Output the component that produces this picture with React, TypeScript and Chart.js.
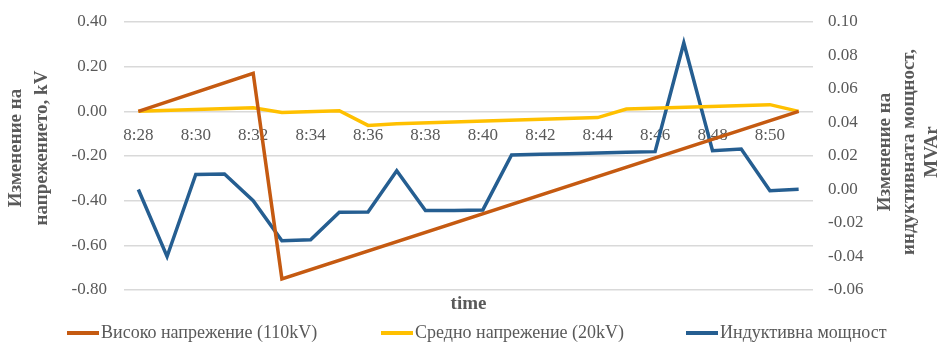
import React, { useEffect, useRef } from 'react';
import { Chart, registerables } from 'chart.js';

Chart.register(...registerables);

const times = [
  '8:28', '8:29', '8:30', '8:31', '8:32', '8:33', '8:34', '8:35',
  '8:36', '8:37', '8:38', '8:39', '8:40', '8:41', '8:42', '8:43',
  '8:44', '8:45', '8:46', '8:47', '8:48', '8:49', '8:50', '8:51',
];

// Високо напрежение (110kV), kV — left axis
const highVoltage: (number | null)[] = [
  0, null, null, null, 0.17, -0.75, null, null,
  null, null, null, null, null, null, null, null,
  null, null, null, null, null, null, null, 0,
];

// Средно напрежение (20kV), kV — left axis
const mediumVoltage: (number | null)[] = [
  0, null, null, null, 0.016, -0.005, null, 0.003,
  -0.063, -0.056, null, null, null, null, null, null,
  -0.028, 0.01, null, null, null, null, 0.03, 0,
];

// Индуктивна мощност, MVAr — right axis
const inductivePower: number[] = [
  0, -0.04, 0.009, 0.0093, -0.0067, -0.0306, -0.03, -0.0136,
  -0.0134, 0.0112, -0.0126, -0.0125, -0.0122, 0.0206, 0.021, 0.0214,
  0.0218, 0.0222, 0.0226, 0.0875, 0.0232, 0.0242, -0.0007, 0.0001,
];

const seriesNames = ['Високо напрежение (110kV)', 'Средно напрежение (20kV)', 'Индуктивна мощност'];
const seriesColors = ['#C55A11', '#FFC000', '#255E91'];
const leftTitle = ['Изменение на', 'напрежението, kV'];
const rightTitle = ['Изменение на', 'индуктивната мощност,', 'MVAr'];
const xTitle = 'time';

const GRAY = '#595959';
const FONT = '"Liberation Serif", "Times New Roman", serif';

const fmt = (v: number) => (Math.abs(v) < 1e-9 ? 0 : v).toFixed(2);

const titlesPlugin = {
  id: 'axisTitlesAndLegend',
  afterDraw(chart: any) {
    const { ctx, chartArea } = chart;
    ctx.save();
    ctx.fillStyle = GRAY;
    ctx.font = `bold 19px ${FONT}`;
    ctx.textAlign = 'center';
    ctx.textBaseline = 'middle';
    const drawV = (lines: string[], xs: number[], cy: number) => {
      lines.forEach((t, i) => {
        ctx.save();
        ctx.translate(xs[i], cy);
        ctx.rotate(-Math.PI / 2);
        ctx.fillText(t, 0, 0);
        ctx.restore();
      });
    };
    drawV(leftTitle, [chartArea.left - 108, chartArea.left - 82], 148);
    drawV(rightTitle, [chartArea.right + 72, chartArea.right + 96, chartArea.right + 119], 152);
    ctx.fillText(xTitle, (chartArea.left + chartArea.right) / 2, 304);

    // legend
    const legendX = [67, 381, 686];
    const ly = 333;
    ctx.font = `18px ${FONT}`;
    ctx.textAlign = 'left';
    chart.data.datasets.forEach((ds: any, i: number) => {
      ctx.fillStyle = ds.borderColor;
      ctx.fillRect(legendX[i], ly - 2, 32, 4);
      ctx.fillStyle = GRAY;
      ctx.fillText(ds.label, legendX[i] + 34, ly);
    });
    ctx.restore();
  },
};

const noVPad = (w: number) => (s: any) => {
  s.width = w;
  s.paddingTop = 0;
  s.paddingBottom = 0;
};

export default function App() {
  const ref = useRef<HTMLCanvasElement>(null);
  useEffect(() => {
    document.body.style.margin = '0';
    const mk = (i: number, data: (number | null)[], axis: string) => ({
      label: seriesNames[i],
      data,
      borderColor: seriesColors[i],
      backgroundColor: seriesColors[i],
      borderWidth: 3.5,
      pointRadius: 0,
      spanGaps: true,
      yAxisID: axis,
    });
    const chart = new Chart(ref.current as HTMLCanvasElement, {
      type: 'line',
      data: {
        labels: times,
        datasets: [
          mk(0, highVoltage, 'y'),
          mk(1, mediumVoltage, 'y'),
          mk(2, inductivePower, 'y1'),
        ],
      },
      options: {
        responsive: false,
        animation: false,
        layout: { padding: { left: 66, right: 0, top: 22, bottom: 53 } },
        scales: {
          x: {
            type: 'category',
            position: { y: 0 } as any,
            offset: true,
            grid: { display: false, drawTicks: false },
            border: { display: false },
            ticks: {
              autoSkip: false,
              maxRotation: 0,
              padding: 14,
              color: GRAY,
              font: { family: FONT, size: 17 },
              callback: (_v: any, i: number) => (i % 2 === 0 ? times[i] : ''),
            },
          },
          y: {
            position: 'left',
            min: -0.8,
            max: 0.4,
            ticks: {
              stepSize: 0.2,
              autoSkip: false,
              padding: 17,
              color: GRAY,
              font: { family: FONT, size: 17 },
              callback: (v: any) => fmt(Number(v)),
            },
            grid: { color: '#d9d9d9', lineWidth: 1.5, drawTicks: false },
            border: { display: false },
            afterFit: noVPad(58),
          },
          y1: {
            position: 'right',
            min: -0.06,
            max: 0.1,
            ticks: {
              stepSize: 0.02,
              autoSkip: false,
              padding: 15,
              color: GRAY,
              font: { family: FONT, size: 17 },
              callback: (v: any) => fmt(Number(v)),
            },
            grid: { display: false, drawTicks: false },
            border: { display: false },
            afterFit: noVPad(126),
          },
        },
        plugins: {
          legend: { display: false },
          tooltip: { enabled: false },
        },
      },
      plugins: [titlesPlugin],
    } as any);
    return () => chart.destroy();
  }, []);
  return (
    <div style={{ position: 'absolute', left: 0, top: 0, width: 939, height: 343, background: '#fff' }}>
      <canvas ref={ref} width={939} height={343} />
    </div>
  );
}
